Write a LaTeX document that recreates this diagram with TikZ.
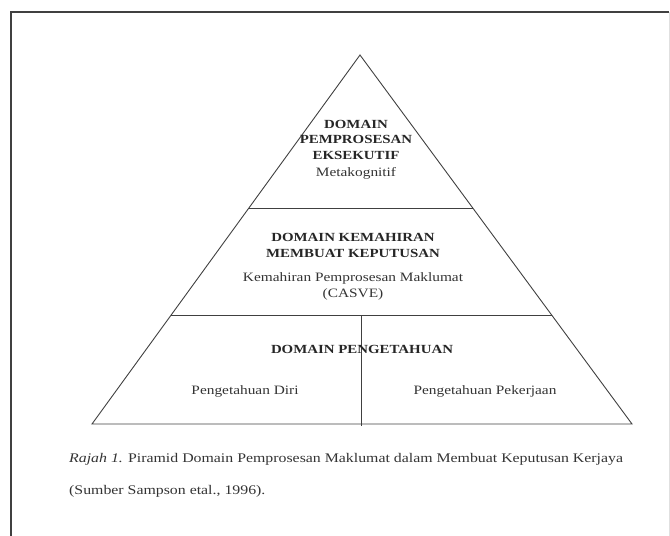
\documentclass[tikz,border=0pt]{standalone}
\usepackage{fontspec}
\setmainfont{Liberation Serif}[FakeStretch=1.2]
\usetikzlibrary{calc}
\begin{document}
\begin{tikzpicture}[x=1pt,y=-1pt,
  edge/.style={draw=black!75,line width=0.9pt},
  frameline/.style={draw=black!75,line width=1.6pt},
  boldtxt/.style={text=black!85,font=\fontsize{12.4}{15.5}\selectfont\bfseries,align=center,inner sep=0pt,anchor=base},
  normtxt/.style={text=black!80,font=\fontsize{12.8}{16}\selectfont,align=center,inner sep=0pt,anchor=base},
  captxt/.style={text=black!80,font=\fontsize{13.2}{16}\selectfont,inner sep=0pt,anchor=base west}]
\useasboundingbox (0,0) rectangle (670,536);
% frame
\coordinate (FTL) at (11,12);
\coordinate (FTR) at (669,12);
\coordinate (FBL) at (11,536);
\coordinate (FBR) at (669,536);
\draw[frameline] (FBL) -- (FTL) -- (FTR);
\draw[draw=black!12,line width=0.8pt] (FTR) -- (FBR);
% pyramid
\coordinate (A) at (360,55);
\coordinate (BL) at (92,424);
\coordinate (BR) at (632,424);
\coordinate (L1) at ($(A)!0.4146!(BL)$);
\coordinate (R1) at ($(A)!0.4146!(BR)$);
\coordinate (L2) at ($(A)!0.7046!(BL)$);
\coordinate (R2) at ($(A)!0.7046!(BR)$);
\coordinate (VT) at (361,315);
\coordinate (VB) at (361,426);
\draw[edge,line join=miter] (BL) -- (A) -- (BR) -- cycle;
\draw[edge] (L1) -- (R1);
\draw[edge] (L2) -- (R2);
\draw[edge] (VT) -- (VB);
% texts (base anchor = baseline of last line)
\node[boldtxt] (t1) at (356,159) {DOMAIN\\PEMPROSESAN\\EKSEKUTIF};
\node[normtxt] (t1b) at (356,176) {Metakognitif};
\node[boldtxt] (t2) at (353,257) {DOMAIN KEMAHIRAN\\MEMBUAT KEPUTUSAN};
\node[normtxt] (t2b) at (353,297) {Kemahiran Pemprosesan Maklumat\\(CASVE)};
\node[boldtxt] (t3) at (362,353) {DOMAIN PENGETAHUAN};
\node[normtxt] (t3a) at (245,394) {Pengetahuan Diri};
\node[normtxt] (t3b) at (485,394) {Pengetahuan Pekerjaan};
% caption
\node[captxt] (c1) at (69,462) {\textit{Rajah 1.} Piramid Domain Pemprosesan Maklumat dalam Membuat Keputusan Kerjaya};
\node[captxt] (c2) at (69,494) {(Sumber Sampson etal., 1996).};
\end{tikzpicture}
\end{document}
